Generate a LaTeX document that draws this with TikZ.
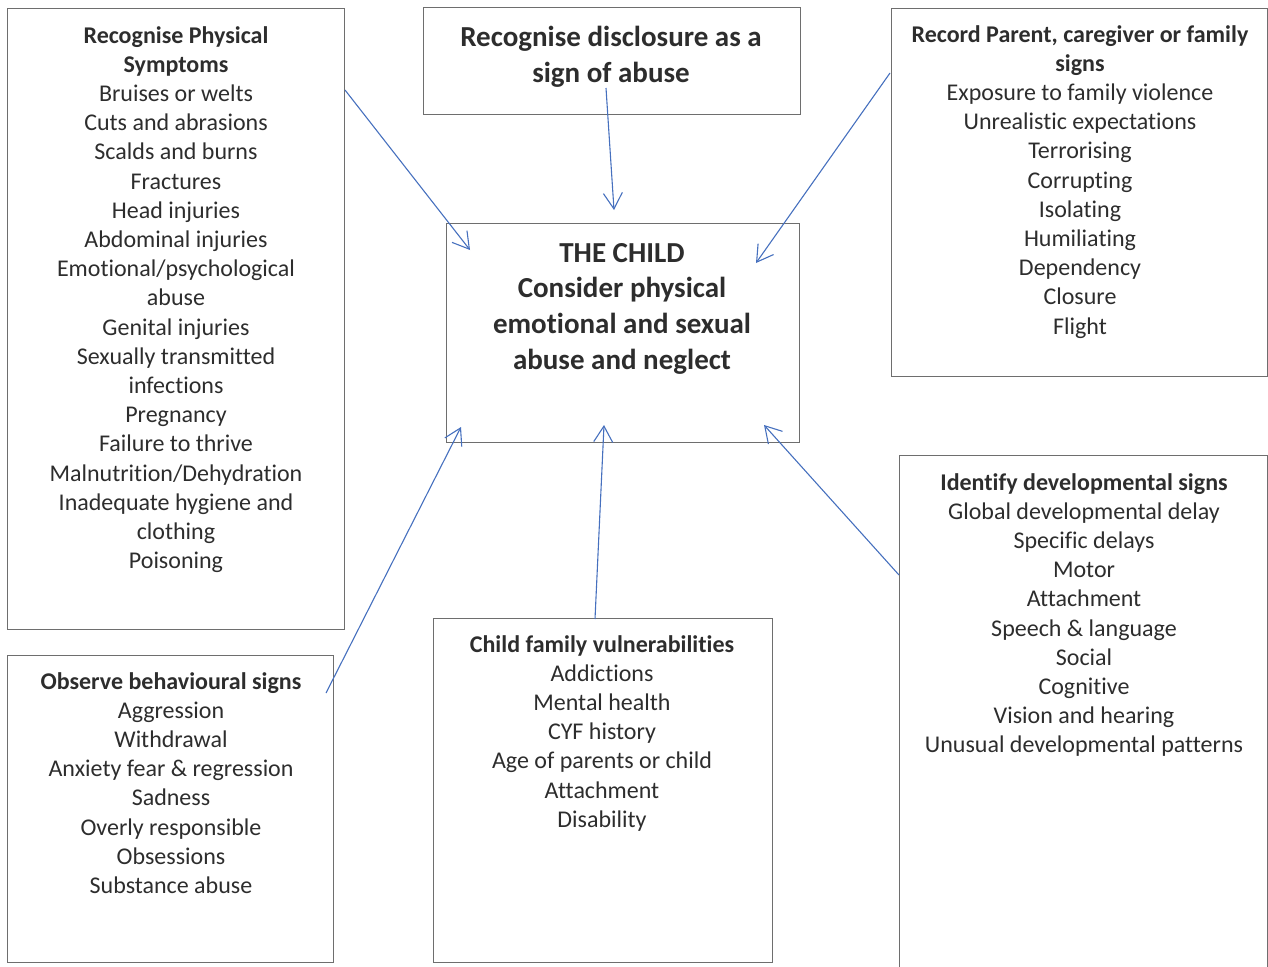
\documentclass[tikz,border=0pt]{standalone}
\usepackage{fontspec}
\setmainfont{Carlito}[Ligatures={NoCommon}]
\usetikzlibrary{arrows.meta}
\definecolor{arrowblue}{RGB}{70,112,190}
\definecolor{boxgray}{RGB}{110,110,110}
\definecolor{txtgray}{RGB}{45,45,45}
\tikzset{
  panel/.style={draw=boxgray, line width=1pt, inner sep=0pt, anchor=north west},
  txt/.style={text=txtgray, align=center, inner sep=0pt, anchor=north,
              font=\fontsize{24}{29.2}\selectfont},
  bigtxt/.style={txt, font=\bfseries\fontsize{29}{35.6}\selectfont},
  arr/.style={draw=arrowblue, line width=1.1pt, -{Straight Barb[length=16pt,width=19pt]}}
}
\begin{document}
\begin{tikzpicture}[x=1pt,y=-1pt]
\useasboundingbox (0,0) rectangle (1268,966);
\clip (0,0) rectangle (1268,966);

% boxes
\node[panel, minimum width=337pt, minimum height=621pt] (phys)  at (7,8) {};
\node[panel, minimum width=377pt, minimum height=107pt] (disc)  at (423,7) {};
\node[panel, minimum width=376pt, minimum height=368pt] (rec)   at (891,8) {};
\node[panel, minimum width=353pt, minimum height=219pt] (child) at (446,223) {};
\node[panel, minimum width=326pt, minimum height=307pt] (beh)   at (7,655) {};
\node[panel, minimum width=339pt, minimum height=344pt] (vul)   at (433,618) {};
\node[panel, minimum width=368pt, minimum height=530pt] (dev)   at (899,455) {};

% texts
\node[txt] (physT) at (176,26) {\textbf{Recognise Physical}\\\textbf{Symptoms}\\Bruises or welts\\Cuts and abrasions\\Scalds and burns\\Fractures\\Head injuries\\Abdominal injuries\\Emotional/psychological\\abuse\\Genital injuries\\Sexually transmitted\\infections\\Pregnancy\\Failure to thrive\\Malnutrition/Dehydration\\Inadequate hygiene and\\clothing\\Poisoning};
\node[bigtxt] (discT) at (611,26) {Recognise disclosure as a\\sign of abuse};
\node[txt] (recT) at (1080,25) {\textbf{Record Parent, caregiver or family}\\\textbf{signs}\\Exposure to family violence\\Unrealistic expectations\\Terrorising\\Corrupting\\Isolating\\Humiliating\\Dependency\\Closure\\Flight};
\node[bigtxt] (childT) at (622,243) {THE CHILD\\Consider physical\\emotional and sexual\\abuse and neglect};
\node[txt] (behT) at (171,672) {\textbf{Observe behavioural signs}\\Aggression\\Withdrawal\\Anxiety fear \& regression\\Sadness\\Overly responsible\\Obsessions\\Substance abuse};
\node[txt] (vulT) at (602,635) {\textbf{Child family vulnerabilities}\\Addictions\\Mental health\\CYF history\\Age of parents or child\\Attachment\\Disability};
\node[txt] (devT) at (1084,473) {\textbf{Identify developmental signs}\\Global developmental delay\\Specific delays\\Motor\\Attachment\\Speech \& language\\Social\\Cognitive\\Vision and hearing\\Unusual developmental patterns};

% connector end points
\coordinate (physOut) at (345,90);
\coordinate (discOut) at (606,88);
\coordinate (recOut)  at (890,73);
\coordinate (behOut)  at (326,693);
\coordinate (vulOut)  at (595,619);
\coordinate (devOut)  at (899,575);
\coordinate (inPhys)  at (470,250);
\coordinate (inDisc)  at (614,210);
\coordinate (inRec)   at (756,263);
\coordinate (inBeh)   at (461,427);
\coordinate (inVul)   at (604,425);
\coordinate (inDev)   at (764,425);

\draw[arr] (physOut) -- (inPhys);
\draw[arr] (discOut) -- (inDisc);
\draw[arr] (recOut) -- (inRec);
\draw[arr] (behOut) -- (inBeh);
\draw[arr] (vulOut) -- (inVul);
\draw[arr] (devOut) -- (inDev);
\end{tikzpicture}
\end{document}
